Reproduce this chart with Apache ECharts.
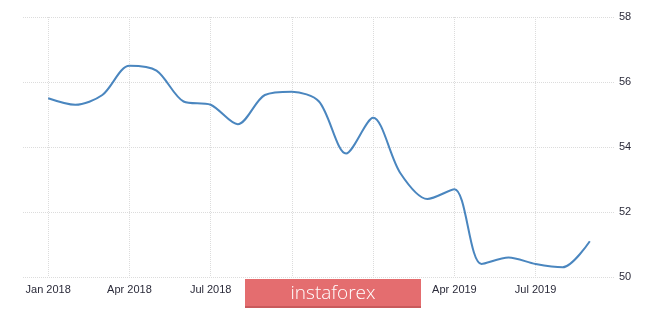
<!DOCTYPE html>
<html>
<head>
<meta charset="utf-8">
<script src="https://cdn.jsdelivr.net/npm/echarts@6/dist/echarts.min.js"></script>
<style>
html,body{margin:0;padding:0;background:#fff;}
#chart{width:665px;height:310px;}
</style>
</head>
<body>
<div id="chart"></div>
<script>
var months = ["Jan 2018","Feb 2018","Mar 2018","Apr 2018","May 2018","Jun 2018","Jul 2018","Aug 2018","Sep 2018","Oct 2018","Nov 2018","Dec 2018","Jan 2019","Feb 2019","Mar 2019","Apr 2019","May 2019","Jun 2019","Jul 2019","Aug 2019","Sep 2019"];
var values = [55.5,55.3,55.6,56.5,56.35,55.4,55.3,54.7,55.6,55.7,55.4,53.8,54.9,53.2,52.4,52.7,50.4,50.6,50.4,50.3,51.1];
var tickIndex = [0,3,6,9,12,15,18];
var tickLabels = ["Jan 2018","Apr 2018","Jul 2018","Oct 2018","Jan 2019","Apr 2019","Jul 2019"];
var yTicks = [50,52,54,56,58];

var chart = echarts.init(document.getElementById('chart'));
var pts = values.map(function(v,i){return [i,v];});
var font = "'Liberation Sans', Arial, sans-serif";
chart.setOption({
  animation:false,
  grid:{left:23,right:50,top:17,bottom:33},
  xAxis:{
    type:'value', min:-0.93, max:20.93,
    axisLine:{show:false},
    axisTick:{show:false, customValues:tickIndex},
    axisLabel:{customValues:tickIndex, margin:7, fontSize:11, color:'#2b2b3a', fontFamily:font,
      formatter:function(v){var k=tickIndex.indexOf(Math.round(v));return k>=0?tickLabels[k]:'';}},
    splitLine:{show:true,lineStyle:{color:'#dcdcdc',type:[1,1],width:1}}
  },
  yAxis:{
    type:'value', position:'right', min:yTicks[0], max:yTicks[yTicks.length-1], interval:2,
    axisLine:{show:false}, axisTick:{show:false},
    axisLabel:{margin:4, fontSize:11, color:'#2b2b3a', fontFamily:font},
    splitLine:{show:true,lineStyle:{color:'#dcdcdc',type:[1,1],width:1}}
  },
  series:[{
    type:'line', data:pts, smooth:0.3, symbol:'none',
    lineStyle:{color:'#4a86bf',width:2}
  }],
  graphic:[
    {type:'rect', z:1000, zlevel:1, left:245, top:279, shape:{width:176,height:29}, style:{fill:'#e46d6f'}},
    {type:'rect', z:1001, zlevel:1, left:245, top:306, shape:{width:176,height:2}, style:{fill:'#c95a5c'}},
    {type:'text', z:1002, zlevel:1, x:333, y:294, style:{text:'instaforex', fill:'#ffffff', font:"300 19px 'Open Sans', sans-serif", align:'center', verticalAlign:'middle'}}
  ]
});
</script>
</body>
</html>
